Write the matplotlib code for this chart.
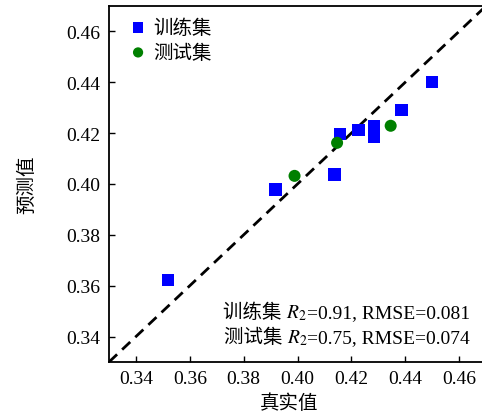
import matplotlib
matplotlib.use("Agg")
import matplotlib.pyplot as plt
from matplotlib.offsetbox import TextArea, HPacker, VPacker, AnchoredOffsetbox

plt.rcParams['font.family'] = ['Liberation Serif', 'Noto Sans CJK SC']
plt.rcParams['mathtext.fontset'] = 'stix'

train_true = [0.450, 0.4386, 0.4285, 0.4285, 0.4227, 0.4158, 0.4138, 0.3919, 0.3520]
train_pred = [0.440, 0.4290, 0.4229, 0.4187, 0.4213, 0.4196, 0.4038, 0.3979, 0.3623]
test_true = [0.3989, 0.4147, 0.4346]
test_pred = [0.4032, 0.4162, 0.4229]
ticks = [0.34, 0.36, 0.38, 0.40, 0.42, 0.44, 0.46]
lim = [0.33, 0.47]
stats = [('训练集 ', '0.91', '0.081'), ('测试集 ', '0.75', '0.074')]

CJK = ['Noto Sans CJK SC']
FS = 14

fig = plt.figure(figsize=(4.82, 4.14), dpi=100)
ax = fig.add_axes([109/482, (414-363)/414, (486-109)/482, (363-7)/414])

ax.plot(lim, lim, color='black', linestyle=(0, (4, 2.5)), linewidth=2, zorder=1)
ax.scatter(train_true, train_pred, marker='s', s=80, color='#0000ff', edgecolors='none', zorder=3, label='训练集')
ax.scatter(test_true, test_pred, marker='o', s=75, color='#008000', edgecolors='none', zorder=3, label='测试集')

ax.set_xlim(lim)
ax.set_ylim(lim)
ax.set_xticks(ticks)
ax.set_yticks(ticks)
ax.set_xticklabels([f"{t:.2f}" for t in ticks])
ax.set_yticklabels([f"{t:.2f}" for t in ticks])
ax.tick_params(direction='in', length=4, width=1, labelsize=FS, pad=6, colors='black')
for sp in ax.spines.values():
    sp.set_linewidth(1.3)

ax.set_xlabel('真实值', fontsize=FS, family=CJK)
ax.xaxis.set_label_coords((289-109)/(486-109), -0.085)
ax.set_ylabel('预测值', fontsize=FS, family=CJK)
ax.yaxis.set_label_coords((37-109)/(486-109), 0.5)

ax.legend(loc='upper left', bbox_to_anchor=(0.041, 0.9865), frameon=False,
          handletextpad=0.38, markerscale=0.85, borderaxespad=0, borderpad=0.3,
          labelspacing=0.2, handlelength=0.8,
          prop={'family': CJK, 'size': FS})

rows = []
for name, r2, rmse in stats:
    parts = [
        TextArea(name, textprops=dict(family=CJK, size=FS)),
        TextArea(r'$R_2$', textprops=dict(size=FS)),
        TextArea(f'={r2}, RMSE={rmse}', textprops=dict(family=['Liberation Serif'], size=FS)),
    ]
    rows.append(HPacker(children=parts, align='baseline', pad=0, sep=0))
box = VPacker(children=rows, align='right', pad=0, sep=3)
anch = AnchoredOffsetbox(loc='lower right', child=box, frameon=False, pad=0, borderpad=0,
                         bbox_to_anchor=(470/482, 1 - 348/414), bbox_transform=fig.transFigure)
fig.add_artist(anch)

fig.savefig('out.png', dpi=100)
